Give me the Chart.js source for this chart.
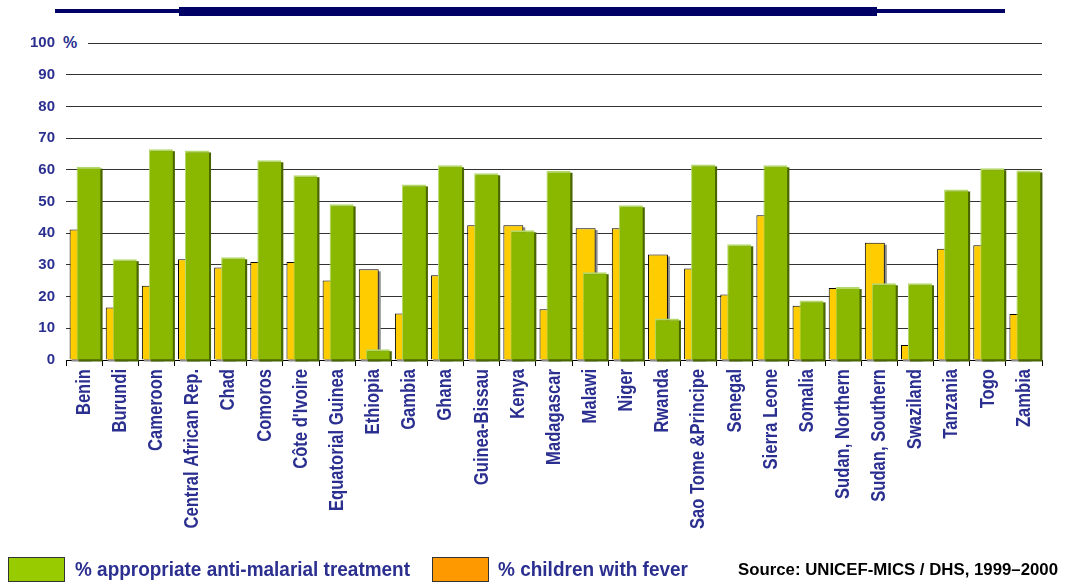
<!DOCTYPE html>
<html>
<head>
<meta charset="utf-8">
<script src="https://cdn.jsdelivr.net/npm/chart.js@4"></script>
<style>
  html, body { margin: 0; padding: 0; background: #fff; }
  #wrap { position: relative; width: 1074px; height: 585px; overflow: hidden; }
  #c { position: absolute; left: 0; top: 0; }
  .bar { position: absolute; background: #000066; }
  .txt { position: absolute; white-space: nowrap; font-family: 'Liberation Sans', Arial, sans-serif; transform-origin: 0 50%; }
  .box { position: absolute; border: 1px solid #333; box-sizing: border-box; }
</style>
</head>
<body>
<div id="wrap">
  <canvas id="c" width="1074" height="585"></canvas>
  <div class="bar" style="left:55px; top:9px; width:950px; height:4px;"></div>
  <div class="bar" style="left:179px; top:7px; width:698px; height:9px;"></div>
  <div class="txt" style="left:60px; top:33px; width:25px; height:20px; background:#fff; font-weight:bold; font-size:16px; color:#2B2F8F; padding-left:3px; line-height:20px;">%</div>
  <div class="box" style="left:8px; top:557px; width:57px; height:25px; background:#99CC00;"></div>
  <div class="txt fit" data-w="335" style="left:75px; top:556px; font-size:21px; font-weight:bold; color:#2B2F8F; line-height:26px;">% appropriate anti-malarial treatment</div>
  <div class="box" style="left:432px; top:557px; width:57px; height:25px; background:#FF9900;"></div>
  <div class="txt fit" data-w="190" style="left:498px; top:556px; font-size:21px; font-weight:bold; color:#2B2F8F; line-height:26px;">% children with fever</div>
  <div class="txt fit" data-w="320" style="left:738px; top:560px; font-size:16px; font-weight:bold; color:#000; line-height:20px;">Source: UNICEF-MICS / DHS, 1999–2000</div>
</div>
<script>
const categories = ['Benin','Burundi','Cameroon','Central African Rep.','Chad','Comoros',"Côte d'Ivoire",'Equatorial Guinea','Ethiopia','Gambia','Ghana','Guinea-Bissau','Kenya','Madagascar','Malawi','Niger','Rwanda','Sao Tome &Principe','Senegal','Sierra Leone','Somalia','Sudan, Northern','Sudan, Southern','Swaziland','Tanzania','Togo','Zambia'];
const feverValues = [41.2,16.6,23.4,31.8,29.2,30.9,30.9,25.1,28.6,14.7,26.7,42.5,42.5,16.0,41.6,41.6,33.3,28.9,20.7,45.7,17.1,22.7,37.0,4.7,35.1,36.2,14.5];
const treatmentValues = [61.0,31.8,66.5,66.1,32.4,63.0,58.3,49.1,3.4,55.4,61.4,58.9,40.9,59.7,27.7,48.8,13.1,61.7,36.5,61.4,18.8,23.0,24.2,24.2,53.8,60.5,59.8];
const yTicks = [0,10,20,30,40,50,60,70,80,90,100];

// fit HTML text widths
document.querySelectorAll('.fit').forEach(el => {
  const w = el.getBoundingClientRect().width;
  const target = +el.dataset.w;
  el.style.transform = 'scaleX(' + (target / w) + ')';
});

const FONT = "'Liberation Sans', Arial, sans-serif";
const LABEL_SQUEEZE = 0.79;

function drawShadow(chart, index) {
  const meta = chart.getDatasetMeta(index);
  const ctx = chart.ctx;
  ctx.save();
  ctx.fillStyle = index === 1 ? '#4A6600' : '#8c8c8c';
  meta.data.forEach(el => {
    const p = el.getProps(['x','y','base','width'], true);
    const left = p.x - p.width / 2;
    ctx.fillRect(left + 2, p.y + 2, p.width, p.base - p.y);
  });
  ctx.restore();
}

const layerPlugin = {
  id: 'layer',
  beforeDraw(chart) {
    const xs = chart.scales.x;
    if (xs && !xs.$squeezed) {
      const orig = xs.drawLabels;
      xs.drawLabels = function (area) {
        const ctx = this.ctx;
        const proto = Object.getPrototypeOf(ctx).fillText;
        ctx.fillText = function (t, x, y, mw) {
          this.save();
          this.scale(LABEL_SQUEEZE, 1);
          if (mw === undefined) proto.call(this, t, x / LABEL_SQUEEZE, y);
          else proto.call(this, t, x / LABEL_SQUEEZE, y, mw / LABEL_SQUEEZE);
          this.restore();
        };
        try { orig.call(this, area); } finally { delete ctx.fillText; }
      };
      xs.$squeezed = true;
    }
  },
  beforeDatasetDraw(chart, args) {
    if (args.index === 1) return false;
    drawShadow(chart, args.index);
  },
  afterDatasetsDraw(chart) {
    drawShadow(chart, 1);
    chart.getDatasetMeta(1).controller.draw();
  }
};

new Chart(document.getElementById('c'), {
  type: 'bar',
  data: {
    labels: categories,
    datasets: [
      {
        label: '% children with fever',
        data: feverValues,
        backgroundColor: '#FFCC00',
        borderColor: '#000000',
        borderWidth: {top: 1, left: 1, right: 1, bottom: 0},
        borderSkipped: 'start',
        barPercentage: 2.22,
        categoryPercentage: 0.498
      },
      {
        label: '% appropriate anti-malarial treatment',
        data: treatmentValues,
        backgroundColor: '#8AB800',
        borderColor: '#B3D867',
        borderWidth: {top: 2, left: 1, right: 0, bottom: 0},
        borderSkipped: 'start',
        barPercentage: 2.67,
        categoryPercentage: 0.498
      }
    ]
  },
  options: {
    responsive: false,
    animation: false,
    devicePixelRatio: 1,
    layout: { padding: { left: 0, right: 32, top: 43, bottom: 0 } },
    plugins: { legend: { display: false }, tooltip: { enabled: false } },
    scales: {
      x: {
        offset: true,
        afterFit(scale) { scale.height = 225; },
        grid: { offset: true, drawOnChartArea: false, drawTicks: true, tickLength: 6, color: '#000', lineWidth: 1 },
        border: { display: true, color: '#000', width: 1 },
        ticks: {
          autoSkip: false, maxRotation: 90, minRotation: 90, padding: 3,
          color: '#2B2F8F',
          font: { family: FONT, size: 21, weight: 'bold' }
        }
      },
      y: {
        min: 0, max: 100,
        afterFit(scale) { scale.width = 66; },
        afterBuildTicks(scale) { scale.ticks = yTicks.map(v => ({ value: v })); },
        grid: { drawTicks: false, color: '#333', lineWidth: 1 },
        border: { display: false },
        ticks: {
          padding: 11,
          color: '#2B2F8F',
          font: { family: FONT, size: 15, weight: 'bold' },
          callback: v => String(v)
        }
      }
    }
  },
  plugins: [layerPlugin]
});
</script>
</body>
</html>
